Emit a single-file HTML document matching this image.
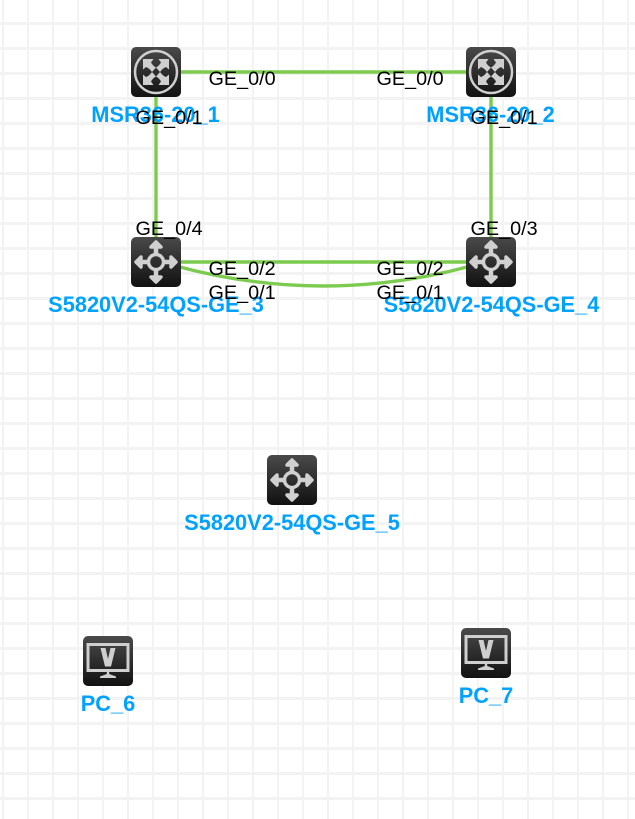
<!DOCTYPE html>
<html>
<head>
<meta charset="utf-8">
<style>
html,body{margin:0;padding:0;background:#fff;width:635px;height:819px;overflow:hidden}
svg{display:block}
.p{font-family:"Liberation Sans",sans-serif;font-size:19.8px;fill:#000}
.n{font-family:"Liberation Sans",sans-serif;font-size:21.8px;font-weight:bold;fill:#00a2ff}
</style>
</head>
<body>
<svg width="635" height="819" viewBox="0 0 635 819" xmlns="http://www.w3.org/2000/svg">
<defs>
<pattern id="g" width="25" height="25" patternUnits="userSpaceOnUse" x="0" y="0">
<rect x="2" y="0" width="2" height="25" fill="#f3f3f3"/>
<rect x="0" y="22" width="25" height="3" fill="#f3f3f3"/>
</pattern>
<linearGradient id="b" x1="0" y1="0" x2="0" y2="1">
<stop offset="0" stop-color="#4a4a4a"/>
<stop offset="1" stop-color="#111"/>
</linearGradient>
<g id="sw">
<rect width="50" height="50" rx="5" fill="url(#b)"/>
<circle cx="25" cy="25" r="7.500" fill="none" stroke="#d0d0d0" stroke-width="3.500"/>
<g fill="none" stroke="#d0d0d0" stroke-width="4.500">
<path d="M25 17V10M25 33V40M17 25H10M33 25H40"/>
</g>
<g fill="none" stroke="#d0d0d0" stroke-width="3.500" stroke-linejoin="round" stroke-linecap="round">
<path d="M20 10L25 5L30 10Z" fill="#d0d0d0"/>
<path d="M20 40L25 45L30 40Z" fill="#d0d0d0"/>
<path d="M10 20L5 25L10 30Z" fill="#d0d0d0"/>
<path d="M40 20L45 25L40 30Z" fill="#d0d0d0"/>
</g>
</g>
<g id="rt">
<rect width="50" height="50" rx="5" fill="url(#b)"/>
<circle cx="25" cy="25" r="21" fill="none" stroke="#cfcfcf" stroke-width="2.500"/>
<g fill="#cfcfcf">
<path d="M12 12H22.500L20 15.500Q22 19 25 20.500L21 25Q18 21 15 20L12 22.500Z"/>
<path d="M38 38H27.500L30 34.500Q28 31 25 29.500L29 25Q32 29 35 30L38 27.500Z"/>
<path d="M38 12V22.500L35 20Q32 21 29 25L25 20.500Q28 19 30 15.500L27.500 12Z"/>
<path d="M12 38V27.500L15 30Q18 29 21 25L25 29.500Q22 31 20 34.500L22.500 38Z"/>
</g>
</g>
<g id="pc">
<rect width="50" height="50" rx="5" fill="url(#b)"/>
<rect x="5" y="8.500" width="40" height="26" fill="none" stroke="#cfcfcf" stroke-width="3"/>
<path d="M17.500 12H22.500L25 23L27.500 12H32.500L28 30.500H22Z" fill="#cfcfcf"/>
<path d="M23.800 35H26.200V38L33 40.500V42H17V40.500L23.800 38Z" fill="#cfcfcf"/>
</g>
</defs>
<rect width="635" height="819" fill="#fff"/>
<rect width="635" height="819" fill="url(#g)"/>

<g fill="none" stroke="#7ccb4e" stroke-width="3.400">
<path d="M156 72H491"/>
<path d="M156 72V262"/>
<path d="M491 72V262"/>
<path d="M156 262H491"/>
<path d="M176 266Q323 306 471 266"/>
</g>

<use href="#rt" x="131" y="47"/>
<use href="#rt" x="466" y="47"/>
<use href="#sw" x="131" y="237"/>
<use href="#sw" x="466" y="237"/>
<use href="#sw" x="267" y="455"/>
<use href="#pc" x="83" y="636"/>
<use href="#pc" x="461" y="628"/>

<text class="n" x="155.500" y="122" text-anchor="middle">MSR36-20_1</text>
<text class="n" x="490.500" y="122" text-anchor="middle">MSR36-20_2</text>
<text class="n" x="156" y="312" text-anchor="middle">S5820V2-54QS-GE_3</text>
<text class="n" x="491.500" y="312" text-anchor="middle">S5820V2-54QS-GE_4</text>
<text class="n" x="292" y="530" text-anchor="middle">S5820V2-54QS-GE_5</text>
<text class="n" x="108" y="711" text-anchor="middle">PC_6</text>
<text class="n" x="486" y="703" text-anchor="middle">PC_7</text>

<text class="p" x="208.500" y="85">GE_0/0</text>
<text class="p" x="376.500" y="85">GE_0/0</text>
<text class="p" x="135.500" y="124">GE_0/1</text>
<text class="p" x="470.500" y="124">GE_0/1</text>
<text class="p" x="135.500" y="235">GE_0/4</text>
<text class="p" x="470.500" y="235">GE_0/3</text>
<text class="p" x="208.500" y="275">GE_0/2</text>
<text class="p" x="376.500" y="275">GE_0/2</text>
<text class="p" x="208.500" y="299">GE_0/1</text>
<text class="p" x="376.500" y="299">GE_0/1</text>
</svg>
</body>
</html>
